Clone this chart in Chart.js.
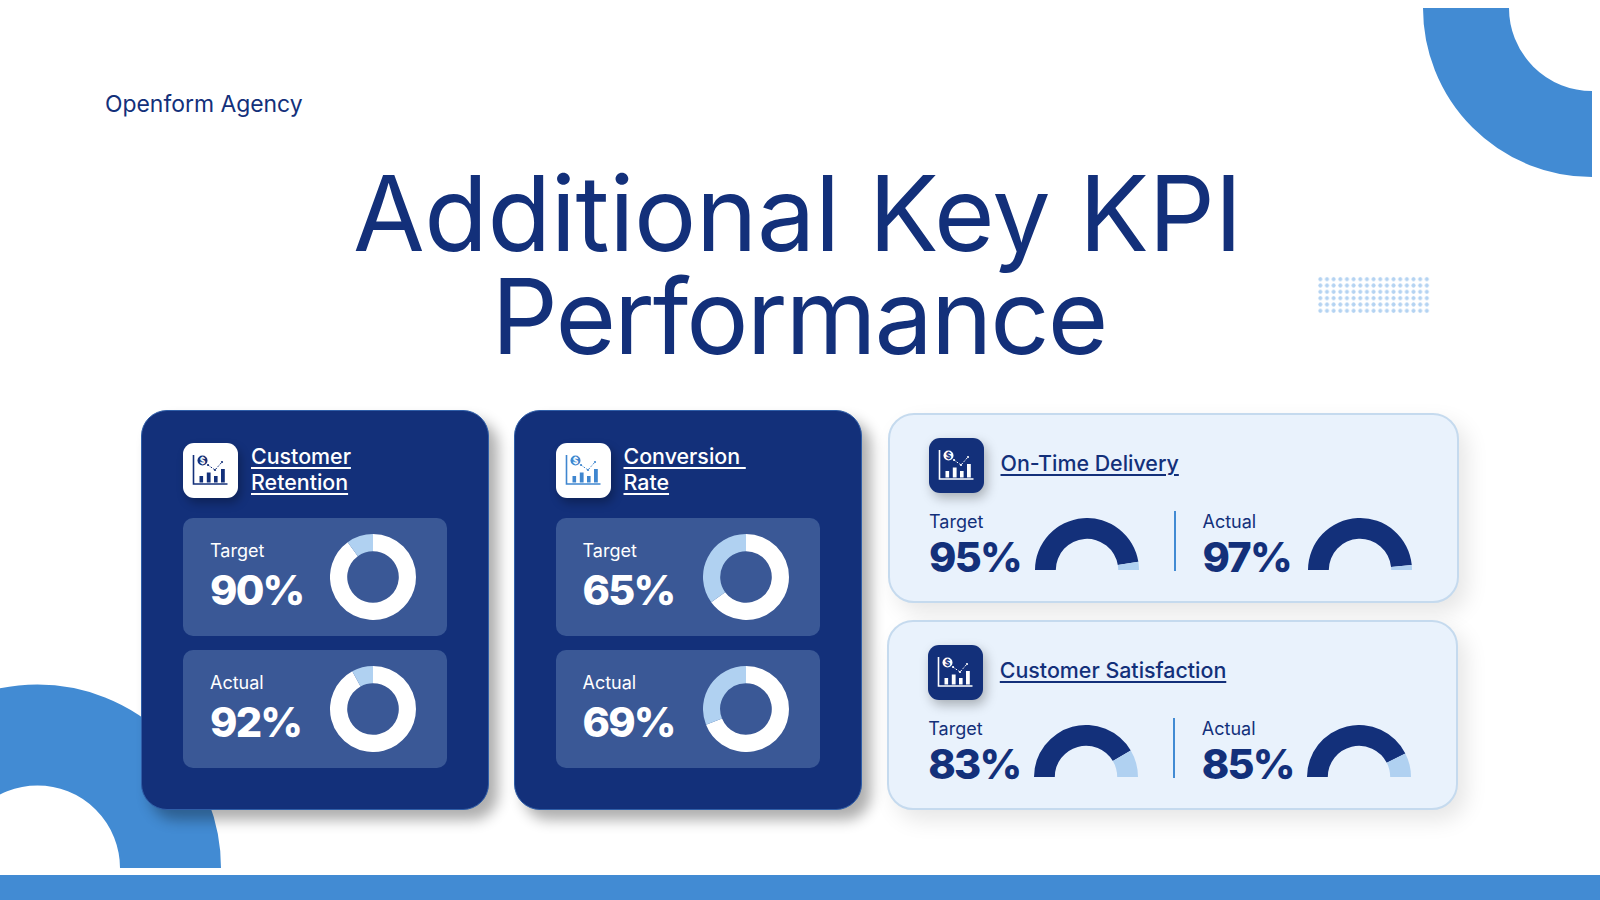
<!DOCTYPE html>
<html>
<head>
<meta charset="utf-8">
<title>Additional Key KPI Performance</title>
<script src="https://cdn.jsdelivr.net/npm/chart.js@4"></script>
<style>
html,body{margin:0;padding:0;background:#fff;width:1600px;height:900px;overflow:hidden;font-family:Inter,"Noto Sans",sans-serif;color:#13307a}
.abs{position:absolute;white-space:pre}
#stage{position:absolute;left:0;top:0;width:1600px;height:900px;overflow:hidden}
.card{position:absolute;box-sizing:border-box}
.dark{background:#13307a;border:1px solid #2f5ea8;border-radius:26px;box-shadow:9px 10px 14px rgba(0,0,0,.32)}
.light{background:#e9f2fc;border:2px solid #c5daee;border-radius:26px;box-shadow:8px 10px 22px rgba(0,0,0,.10)}
.panel{position:absolute;background:#3a5896;border-radius:10px}
.icon{position:absolute;width:55px;height:55px;border-radius:11px}
.icon.w{background:#fff;box-shadow:3px 5px 10px rgba(0,0,0,.28);color:#13307a}
.icon.d{background:#13307a;box-shadow:3px 5px 12px rgba(0,0,0,.28);color:#fff}
.icon.b{background:#fff;box-shadow:3px 5px 10px rgba(0,0,0,.28);color:#3f86cf}
.icon svg{position:absolute;left:0;top:0}
.ttl{font-size:21.4px;line-height:26px;font-weight:500;text-decoration:underline;text-decoration-thickness:1.6px;text-underline-offset:3px}
.lbl{font-size:18px;line-height:24px;font-weight:400}
.val{font-weight:800;font-size:41.5px;line-height:50px;letter-spacing:-1.8px}
canvas{position:absolute;display:block}
#title span{display:block;position:relative}
</style>
</head>
<body>
<div id="stage">
<svg class="abs" style="left:0;top:0" width="1600" height="900">
  <defs>
    <clipPath id="tr"><rect x="1400" y="8" width="192" height="180"/></clipPath>
    <clipPath id="bl"><rect x="0" y="670" width="240" height="198"/></clipPath>
  </defs>
  <circle cx="1592" cy="8" r="126" fill="none" stroke="#428bd3" stroke-width="86" clip-path="url(#tr)"/>
  <circle cx="37.5" cy="868" r="133" fill="none" stroke="#428bd3" stroke-width="101" clip-path="url(#bl)"/>
  <rect x="0" y="875" width="1600" height="25" fill="#428bd3"/>
</svg>
<div class="abs" id="dots" style="left:1317px;top:276px;width:113px;height:38px;background-image:radial-gradient(circle,#b4d3f2 1.7px,transparent 2.3px);background-size:6.67px 6.33px"></div>
<div class="abs" id="agency" style="left:105px;top:89px;font-size:22.9px;line-height:30px">Openform Agency</div>
<div class="abs" id="title" style="left:0;width:1600px;text-align:center;top:161.5px;font-size:104px;line-height:103.5px"><span style="letter-spacing:-0.4px;left:-2.5px">Additional Key KPI</span><span style="letter-spacing:-2px;left:-1px">Performance</span></div>
</div>
<script>
// ---- data ----
const leftTitles = [["Customer", "Retention"], ["Conversion ", "Rate"]];
const leftTargets = [90, 65];
const leftActuals = [92, 69];
const rightTitles = ["On-Time Delivery", "Customer Satisfaction"];
const rightTargets = [95, 83];
const rightActuals = [97, 85];
const measureLabels = ["Target", "Actual"];
// ---- palette ----
const NAVY = "#13307a", PALE = "#b0d1f1", WHITE = "#ffffff";

const stage = document.getElementById("stage");
function add(cls, css, text) {
  const d = document.createElement("div");
  d.className = cls;
  d.style.cssText = css;
  if (text !== undefined) d.textContent = text;
  stage.appendChild(d);
  return d;
}
function iconSvg(el) {
  el.innerHTML = '<svg width="55" height="55" viewBox="0 0 55 55">' +
    '<path d="M10.5 12V41H44.5" fill="none" stroke="currentColor" stroke-width="1.6"/>' +
    '<rect x="16.5" y="33" width="3.6" height="6.5" fill="currentColor"/>' +
    '<rect x="23.8" y="29.5" width="3.8" height="10" fill="currentColor"/>' +
    '<rect x="31" y="33" width="3.6" height="6.5" fill="currentColor"/>' +
    '<rect x="38" y="26" width="3.8" height="13.5" fill="currentColor"/>' +
    '<path d="M25 22L32 27L39 19" fill="none" stroke="currentColor" stroke-width="1" stroke-dasharray="1.8 1.4"/>' +
    '<circle cx="25" cy="22" r="1.1" fill="currentColor"/><circle cx="32" cy="27" r="1.1" fill="currentColor"/><circle cx="39" cy="19" r="1.1" fill="currentColor"/>' +
    '<circle cx="19.5" cy="17.5" r="5" fill="currentColor"/>' +
    '<text x="19.5" y="20.6" font-size="8.5" font-weight="700" text-anchor="middle" font-family="Inter" class="ds">$</text>' +
    '</svg>';
  const t = el.querySelector(".ds");
  t.setAttribute("fill", el.classList.contains("d") ? "#13307a" : "#ffffff");
}
function drawRing(x, y, w, h, value, colors, half) {
  const c = document.createElement("canvas");
  c.width = w; c.height = h;
  c.style.cssText = `left:${x}px;top:${y}px;width:${w}px;height:${h}px`;
  stage.appendChild(c);
  new Chart(c, {
    type: "doughnut",
    data: { labels: ["Achieved", "Remaining"],
      datasets: [{ data: [value, 100 - value], backgroundColor: colors, borderWidth: 0 }] },
    options: {
      responsive: false, animation: false, cutout: "60%",
      rotation: half ? -90 : 0, circumference: half ? 180 : 360,
      layout: { padding: 0 },
      plugins: { legend: { display: false }, tooltip: { enabled: false } }
    }
  });
}
// left, tall dark cards
leftTitles.forEach((lines, i) => {
  const dx = i * 372.5;
  add("card dark", `left:${141.2 + i * 372.7}px;top:409.5px;width:348px;height:400px`);
  iconSvg(add("icon " + (i ? "b" : "w"), `left:${183 + dx}px;top:443px`));
  lines.forEach((ln, j) => add("abs ttl", `left:${251 + dx}px;top:${443 + j * 25.5}px;color:#fff`, ln));
  [leftTargets[i], leftActuals[i]].forEach((v, j) => {
    const dy = j * 131.5;
    add("panel", `left:${183 + dx}px;top:${518 + dy}px;width:264px;height:118px`);
    add("abs lbl", `left:${210 + dx}px;top:${539 + dy}px;color:#fff`, measureLabels[j]);
    add("abs val", `left:${210 + dx}px;top:${565 + dy}px;color:#fff`, v + "%");
    drawRing(330 + dx, 534 + dy, 86, 86, v, [WHITE, PALE], false);
  });
});
// right, wide pale cards
rightTitles.forEach((title, i) => {
  const dy = i * 207, dx = i * -0.7;
  add("card light", `left:${888 + dx}px;top:${412.5 + dy}px;width:571px;height:190.5px`);
  iconSvg(add("icon d", `left:${929 + dx}px;top:${437.5 + dy}px`));
  add("abs ttl", `left:${1000.5 + dx}px;top:${450 + dy}px`, title);
  [rightTargets[i], rightActuals[i]].forEach((v, j) => {
    const ox = j * 273.5;
    add("abs lbl", `left:${929 + dx + ox}px;top:${509.5 + dy + i * 0.5}px`, measureLabels[j]);
    add("abs val", `left:${929 + dx + ox}px;top:${531.5 + dy}px`, v + "%");
    drawRing(1034.5 + dx + ox, 518 + dy, 104, 52, v, [NAVY, PALE], true);
  });
  add("abs", `left:${1174 + dx}px;top:${511 + dy}px;width:2px;height:60px;background:#428bd3`);
});
</script>
</body>
</html>
